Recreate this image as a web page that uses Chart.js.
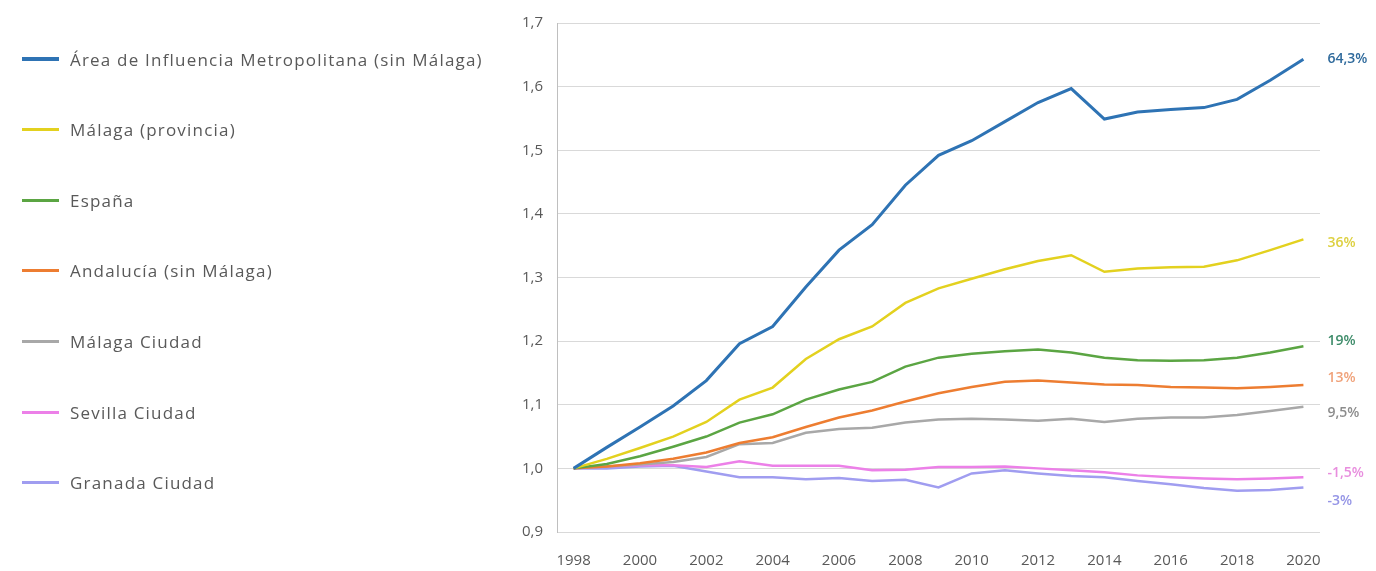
<!DOCTYPE html>
<html>
<head>
<meta charset="utf-8">
<script src="https://cdn.jsdelivr.net/npm/chart.js@4"></script>
<style>
  html, body { margin: 0; padding: 0; background: #fff; }
  #wrap { position: relative; width: 1376px; height: 571px; }
  #chart { position: absolute; left: 0; top: 0; }
  #legend { position: absolute; left: 0; top: 0; font-family: "Open Sans", sans-serif; font-size: 17px; color: #595959; letter-spacing: 1.2px; }
  .item { position: absolute; left: 22px; height: 24px; display: flex; align-items: center; white-space: nowrap; }
  .swatch { width: 37px; height: 3px; margin-right: 11px; }
</style>
</head>
<body>
<div id="wrap">
  <canvas id="chart" width="1376" height="571"></canvas>
  <div id="legend"></div>
</div>
<script>
// años
const years = ['1998', '1999', '2000', '2001', '2002', '2003', '2004', '2005', '2006', '2007', '2008',
  '2009', '2010', '2011', '2012', '2013', '2014', '2015', '2016', '2017', '2018', '2019', '2020'];

// índice de población, base 1998 = 1
const areaMetro = [1.000, 1.033, 1.065, 1.098, 1.138, 1.196, 1.223, 1.285, 1.343, 1.383, 1.445, 1.492,
  1.515, 1.545, 1.575, 1.597, 1.549, 1.560, 1.564, 1.567, 1.580, 1.610, 1.643];
const malagaProv = [1.000, 1.015, 1.032, 1.050, 1.073, 1.108, 1.127, 1.172, 1.203, 1.223, 1.260, 1.283,
  1.298, 1.313, 1.326, 1.335, 1.309, 1.314, 1.316, 1.317, 1.327, 1.343, 1.360];
const espana = [1.000, 1.007, 1.019, 1.034, 1.050, 1.072, 1.085, 1.108, 1.124, 1.136, 1.160, 1.174,
  1.180, 1.184, 1.187, 1.182, 1.174, 1.170, 1.169, 1.170, 1.174, 1.182, 1.192];
const andalucia = [1.000, 1.003, 1.008, 1.015, 1.025, 1.040, 1.049, 1.065, 1.080, 1.091, 1.105, 1.118,
  1.128, 1.136, 1.138, 1.135, 1.132, 1.131, 1.128, 1.127, 1.126, 1.128, 1.131];
const malagaCiudad = [1.000, 1.003, 1.006, 1.010, 1.018, 1.038, 1.040, 1.056, 1.062, 1.064, 1.072, 1.077,
  1.078, 1.077, 1.075, 1.078, 1.073, 1.078, 1.080, 1.080, 1.084, 1.090, 1.097];
const sevilla = [1.000, 1.003, 1.005, 1.005, 1.002, 1.011, 1.004, 1.004, 1.004, 0.997, 0.998, 1.002,
  1.002, 1.003, 1.000, 0.997, 0.994, 0.989, 0.986, 0.984, 0.983, 0.984, 0.986];
const granada = [1.000, 1.000, 1.003, 1.004, 0.995, 0.986, 0.986, 0.983, 0.985, 0.980, 0.982, 0.970,
  0.992, 0.997, 0.992, 0.988, 0.986, 0.980, 0.975, 0.969, 0.965, 0.966, 0.970];

const seriesNames = ['Área de Influencia Metropolitana (sin Málaga)', 'Málaga (provincia)', 'España',
  'Andalucía (sin Málaga)', 'Málaga Ciudad', 'Sevilla Ciudad', 'Granada Ciudad'];
const seriesValues = [areaMetro, malagaProv, espana, andalucia, malagaCiudad, sevilla, granada];
const seriesColors = ['#2e73b4', '#e3d11f', '#5ba543', '#ed7d31', '#a8a8a8', '#ec80e8', '#a09df0'];
const endLabels = ['64,3%', '36%', '19%', '13%', '9,5%', '-1,5%', '-3%'];
const endLabelColors = ['#2f6a9c', '#ddd040', '#3e8c6a', '#f0a27a', '#8c8c8c', '#e88ede', '#9595e6'];

// leyenda a la izquierda
const legend = document.getElementById('legend');
seriesNames.forEach((name, i) => {
    const item = document.createElement('div');
    item.className = 'item';
    item.style.top = (47 + i * 70.6) + 'px';
    const sw = document.createElement('span');
    sw.className = 'swatch';
    sw.style.background = seriesColors[i];
    if (i === 0) sw.style.height = '3.5px';
    const txt = document.createElement('span');
    txt.textContent = name;
    item.appendChild(sw);
    item.appendChild(txt);
    legend.appendChild(item);
});

// etiquetas al final de cada línea
const labelNudge = [0, 4, -5, -7, 6, -4, 14];
const endLabelPlugin = {
    id: 'endLabels',
    afterDatasetsDraw(chart) {
        const ctx = chart.ctx;
        ctx.save();
        ctx.font = '600 14px "Open Sans", sans-serif';
        ctx.textBaseline = 'middle';
        ctx.textAlign = 'left';
        chart.data.datasets.forEach((ds, i) => {
            const pts = chart.getDatasetMeta(i).data;
            const p = pts[pts.length - 1];
            ctx.fillStyle = endLabelColors[i];
            ctx.fillText(endLabels[i], p.x + 24, p.y + labelNudge[i]);
        });
        ctx.restore();
    }
};

Chart.defaults.font.family = '"Open Sans", sans-serif';
Chart.defaults.color = '#595959';

new Chart(document.getElementById('chart'), {
    type: 'line',
    data: {
        labels: years,
        datasets: seriesNames.map((name, i) => ({
            label: name,
            data: seriesValues[i],
            borderColor: seriesColors[i],
            backgroundColor: seriesColors[i],
            borderWidth: i === 0 ? 3 : 2.5,
            pointRadius: 0,
            tension: 0,
            order: i
        }))
    },
    options: {
        responsive: false,
        animation: false,
        layout: { padding: { left: 508, right: 56, top: 15, bottom: 0 } },
        plugins: {
            legend: { display: false },
            tooltip: { enabled: false }
        },
        scales: {
            x: {
                offset: true,
                grid: { display: false, drawTicks: false },
                border: { display: false },
                afterFit: s => { s.height = 39; },
                ticks: {
                    autoSkip: false,
                    maxRotation: 0,
                    padding: 20,
                    font: { size: 15 },
                    callback: function (v, i) { return i % 2 === 0 ? this.getLabelForValue(v) : ''; }
                }
            },
            y: {
                min: 0.9,
                max: 1.7,
                grid: { color: '#d9d9d9', drawTicks: false },
                border: { color: '#bfbfbf' },
                ticks: {
                    stepSize: 0.1,
                    padding: 14,
                    font: { size: 15 },
                    callback: v => v.toFixed(1).replace('.', ',')
                }
            }
        }
    },
    plugins: [endLabelPlugin]
});
</script>
</body>
</html>
